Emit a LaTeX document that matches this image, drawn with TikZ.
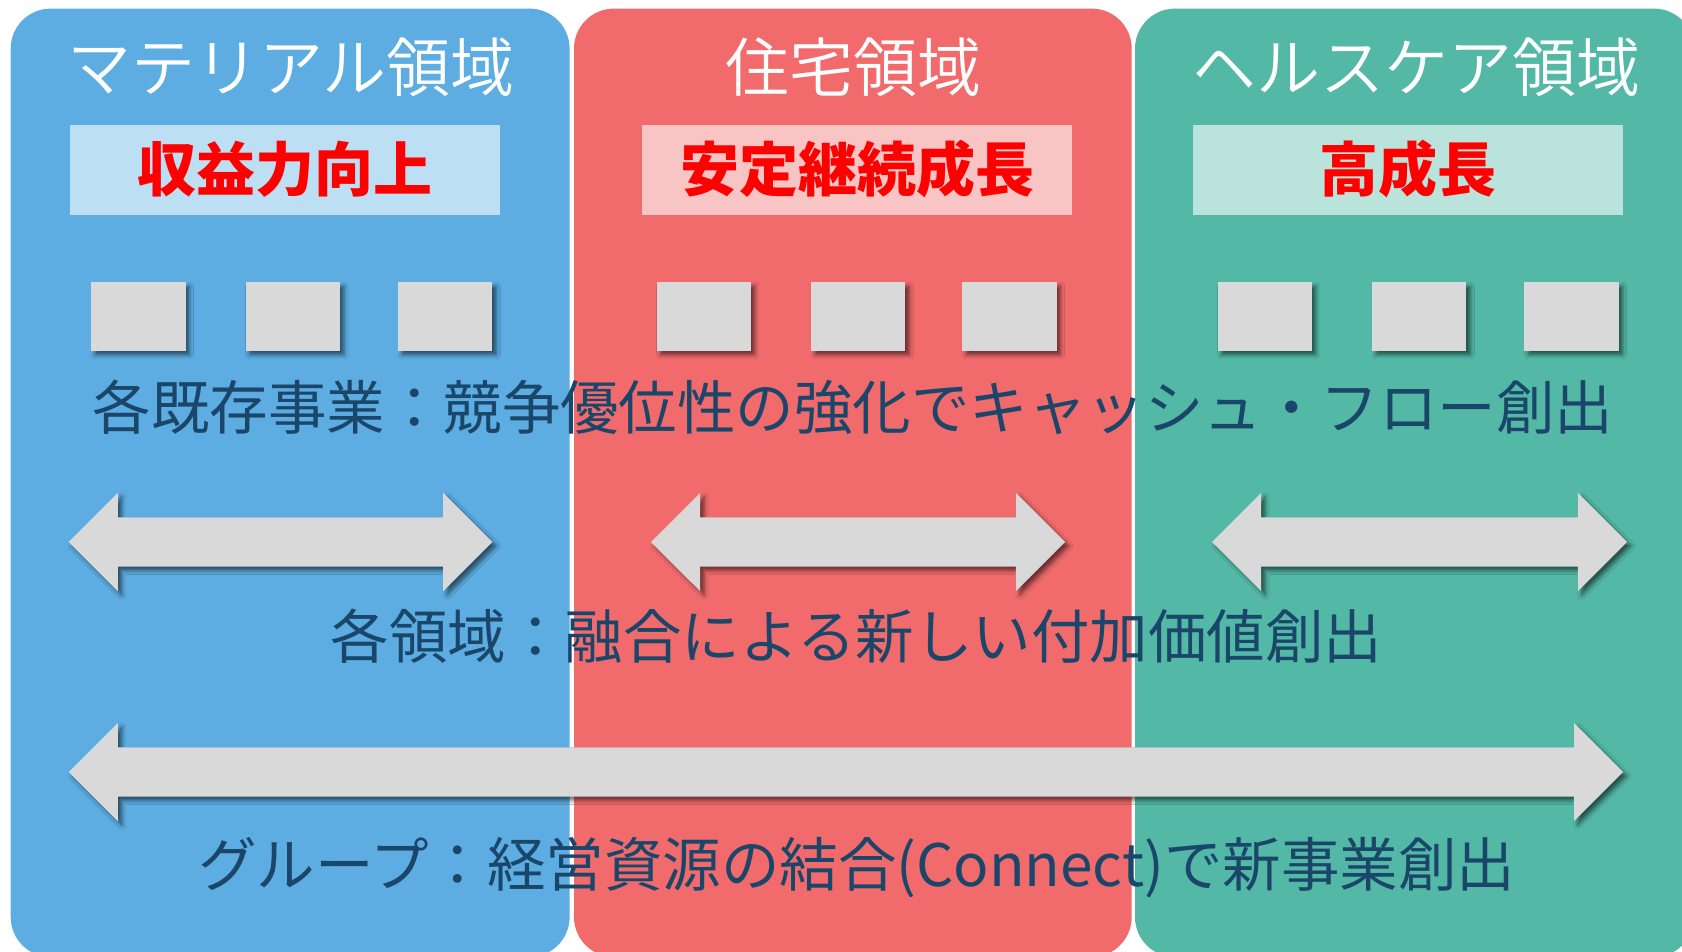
\documentclass[tikz,border=0pt]{standalone}
\usepackage{fontspec}
\setmainfont{Noto Sans CJK JP}
\newfontfamily\titlefont{Noto Sans CJK JP DemiLight}
\usetikzlibrary{shapes.arrows,shadows,shadows.blur}
\definecolor{pblue}{HTML}{5DADE2}
\definecolor{pred}{HTML}{F26B6C}
\definecolor{pgreen}{HTML}{53B9A6}
\definecolor{bblue}{HTML}{BDDFF3}
\definecolor{bred}{HTML}{F8C4C4}
\definecolor{bgreen}{HTML}{BAE4DB}
\definecolor{tilegray}{HTML}{D9D9D9}
\definecolor{bodytext}{HTML}{1A4769}
\definecolor{subred}{HTML}{FF0000}
\tikzset{
  panel/.style={rounded corners=40pt},
  title/.style={text=white, inner sep=0pt, font=\titlefont\fontsize{64}{70}\selectfont, text height=56.3pt, text depth=7.7pt},
  subbox/.style={minimum width=430.5pt, minimum height=90pt, inner sep=0pt},
  subtext/.style={text=subred, inner sep=0pt, font=\bfseries\fontsize{59}{65}\selectfont, text height=51.9pt, text depth=7.1pt},
  body/.style={text=bodytext, inner sep=0pt, font=\fontsize{58.5}{64}\selectfont, text height=51.5pt, text depth=7pt},
  softshadow/.style={blur shadow={shadow xshift=4pt, shadow yshift=-4pt, shadow blur radius=4pt, shadow opacity=55}},
  tile/.style={fill=tilegray, minimum width=94.4pt, minimum height=68.7pt, inner sep=0pt, softshadow},
  blockarrow/.style={double arrow, fill=tilegray, double arrow head extend=24.5pt, inner xsep=0pt, inner ysep=24.5pt, softshadow},
}
\begin{document}
\begin{tikzpicture}[x=1pt,y=-1pt]
\useasboundingbox (0,0) rectangle (1682,951);
\fill[white] (0,0) rectangle (1682,951);
\begin{scope}
\clip (0,0) rectangle (1682,951);
\fill[pblue,panel] (10.7,8.6) rectangle (569.6,957);
\fill[pred,panel] (574,8.6) rectangle (1131.7,957);
\fill[pgreen,panel] (1135,8.6) rectangle (1694,957);
\end{scope}
% titles
\node[title] (t1) at (291,67) {マテリアル領域};
\node[title] (t2) at (853,67) {住宅領域};
\node[title] (t3) at (1416,67) {ヘルスケア領域};
% sub boxes
\node[subbox, fill=bblue] (s1) at (285,169.5) {};
\node[subbox, fill=bred] (s2) at (857,169.5) {};
\node[subbox, fill=bgreen] (s3) at (1408,169.5) {};
\node[subtext] at (s1) {収益力向上};
\node[subtext] at (s2) {安定継続成長};
\node[subtext] at (s3) {高成長};
% tiles
\foreach \i/\x in {1/138.4,2/292.8,3/445.2,4/703.7,5/858.2,6/1009.4,7/1264.7,8/1419.2,9/1571.5}
  \node[tile] (sq\i) at (\x,316.5) {};
% body line 1
\node[body] (l1) at (853,407.6) {各既存事業：競争優位性の強化でキャッシュ・フロー創出};
% arrows row 1
\node[blockarrow, minimum height=423.7pt] (a1) at (280.5,542) {};
\node[blockarrow, minimum height=414pt] (a2) at (858,542) {};
\node[blockarrow, minimum height=415pt] (a3) at (1419.5,542) {};
% body line 2
\node[body] (l2) at (856.5,636) {各領域：融合による新しい付加価値創出};
% arrow row 2
\node[blockarrow, minimum height=1554.3pt] (a4) at (845.9,772) {};
% body line 3
\node[body] (l3) at (856.6,864.6) {グループ：経営資源の結合(Connect)で新事業創出};
\end{tikzpicture}
\end{document}
